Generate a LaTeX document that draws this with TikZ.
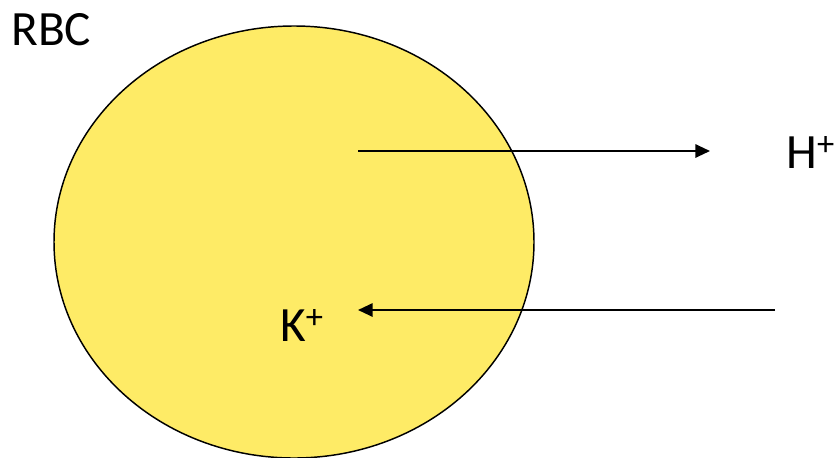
\documentclass[tikz,border=0pt]{standalone}
\usepackage{fontspec}
\setmainfont{Carlito}
\usetikzlibrary{arrows.meta}
\definecolor{cellyellow}{RGB}{254,235,102}
\begin{document}
\begin{tikzpicture}[x=0.75pt,y=-0.75pt,
  cell/.style={draw=black,fill=cellyellow,line width=1.1pt},
  ion/.style={font=\fontsize{37}{44}\selectfont,inner sep=0pt,anchor=base west},
  flow/.style={-{Triangle[length=11pt,width=10pt]},line width=1.5pt}]
\useasboundingbox (0,0) rectangle (838,457);
\draw[cell] (294,242) ellipse (240 and 216);
\node[ion] (lbl) at (11,45) {RBC};
\node[ion] (h) at (786,168) {H\textsuperscript{+}};
\node[ion] (k) at (280,341) {K\textsuperscript{+}};
\coordinate (hstart) at (358,151);
\coordinate (hend) at (710,151);
\coordinate (kstart) at (775,310);
\coordinate (kend) at (358,310);
\draw[flow] (hstart)--(hend);
\draw[flow] (kstart)--(kend);
\end{tikzpicture}
\end{document}
